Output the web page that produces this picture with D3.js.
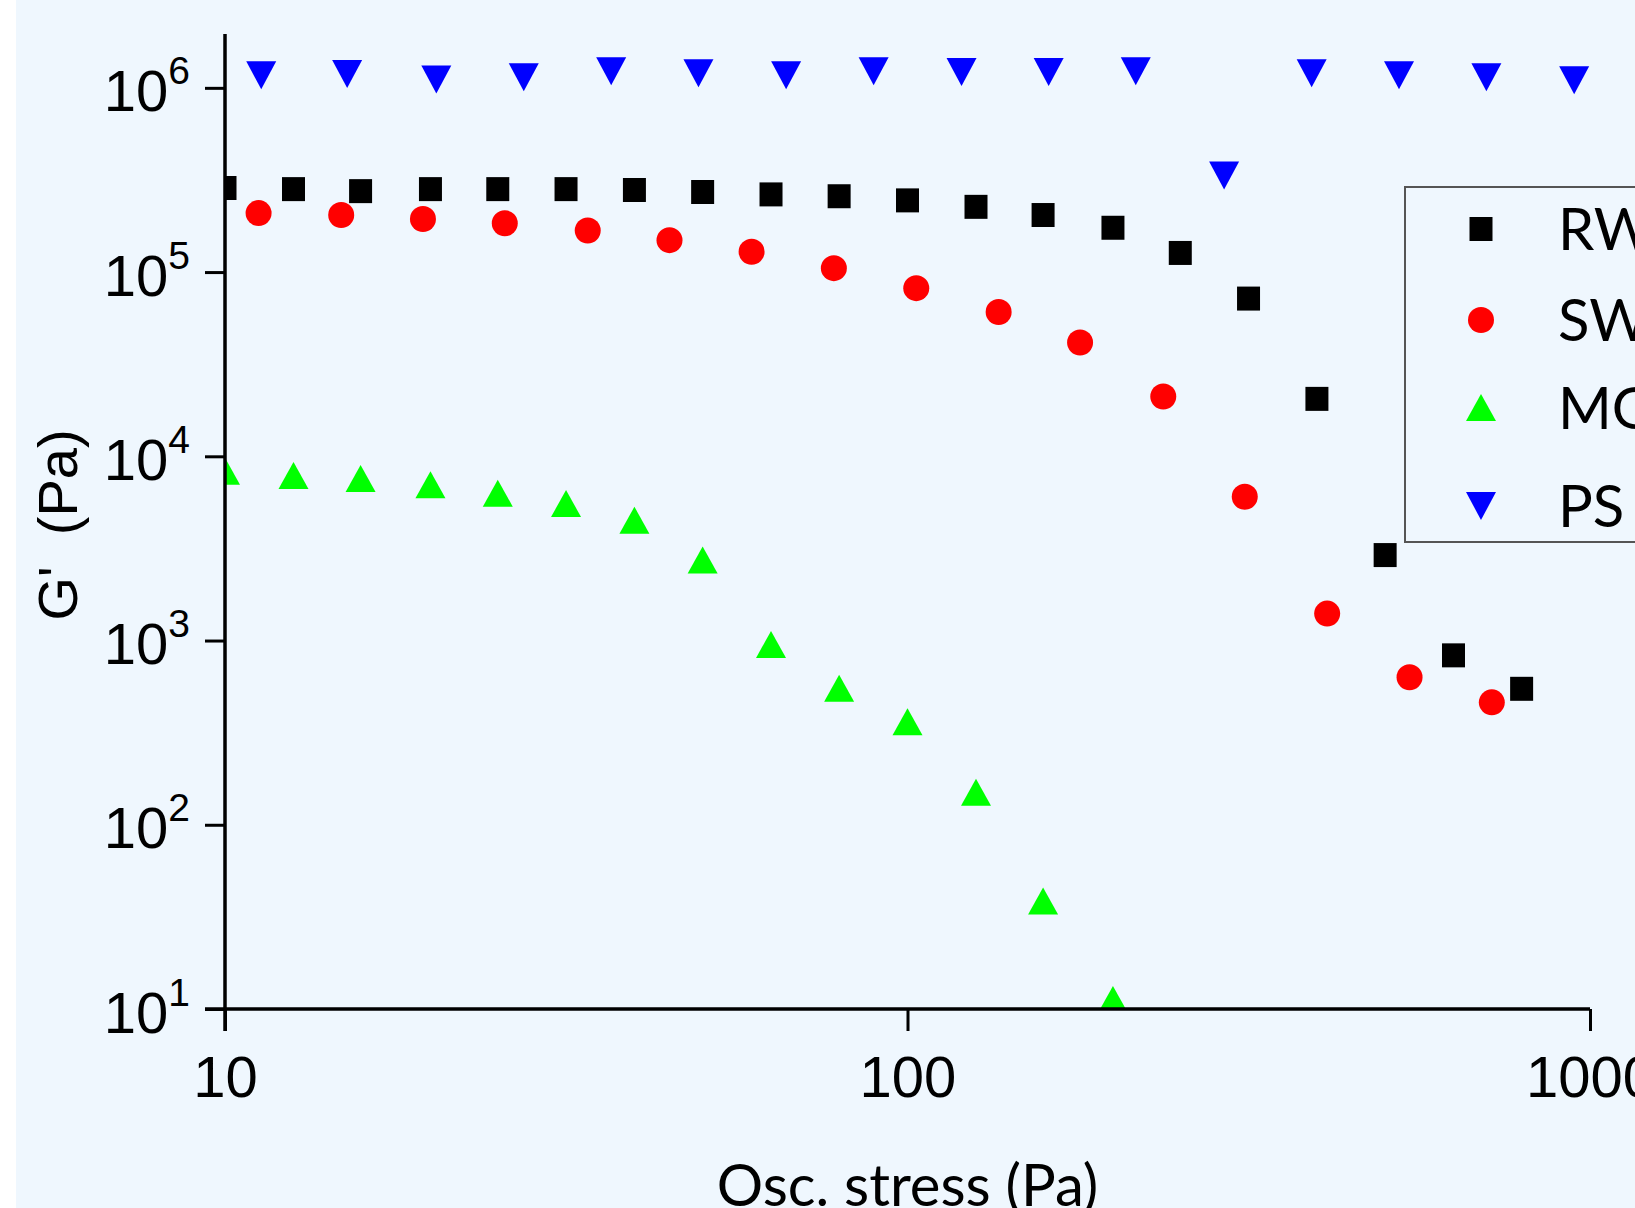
<!DOCTYPE html>
<html>
<head>
<meta charset="utf-8">
<script src="https://cdn.jsdelivr.net/npm/d3@7"></script>
<style>
  html, body { margin: 0; padding: 0; background: #fff; overflow: hidden; }
  svg { display: block; }
</style>
</head>
<body>
<script>
"use strict";

// G' vs oscillation stress, four samples
var rwStress = [10, 12.6, 15.8, 20, 25.1, 31.6, 39.8, 50.1, 63.1, 79.4, 100, 126, 158, 200, 251, 316, 398, 501, 631, 794];
var rwG = [2.86e5, 2.82e5, 2.75e5, 2.82e5, 2.82e5, 2.82e5, 2.79e5, 2.72e5, 2.64e5, 2.58e5, 2.45e5, 2.26e5, 2.04e5, 1.74e5, 1.27e5, 7.18e4, 2.05e4, 2.91e3, 831, 547];

var swStress = [11.2, 14.8, 19.5, 25.7, 34.0, 44.8, 59.1, 78.0, 103, 136, 179, 237, 312, 412, 544, 718];
var swG = [2.09e5, 2.04e5, 1.94e5, 1.84e5, 1.68e5, 1.49e5, 1.29e5, 1.05e5, 8.18e4, 6.07e4, 4.15e4, 2.11e4, 6.03e3, 1.40e3, 632, 462];

var mgStress = [10, 12.6, 15.8, 20, 25.1, 31.6, 39.8, 50.1, 63.1, 79.4, 100, 126, 158, 200];
var mgG = [8.25e3, 7.83e3, 7.53e3, 6.96e3, 6.27e3, 5.51e3, 4.47e3, 2.72e3, 946, 547, 360, 149, 38.3, 11.2];

var psStress = [11.3, 15.1, 20.4, 27.4, 36.8, 49.4, 66.4, 89.2, 120, 161, 216, 291, 391, 525, 705, 948];
var psG = [1.17e6, 1.19e6, 1.11e6, 1.14e6, 1.23e6, 1.20e6, 1.17e6, 1.23e6, 1.22e6, 1.22e6, 1.23e6, 3.34e5, 1.20e6, 1.17e6, 1.14e6, 1.10e6];

var seriesNames = ["RW", "SW", "MG", "PS"];
var seriesColors = ["#000000", "#ff0000", "#00ff00", "#0000ff"];
var seriesShapes = ["square", "circle", "up", "down"];

var xTicks = [10, 100, 1000];
var xTickLabels = ["10", "100", "1000"];
var yTickExps = [1, 2, 3, 4, 5, 6];

var width = 1635;
var height = 1208;

var series = [
  { stress: rwStress, g: rwG },
  { stress: swStress, g: swG },
  { stress: mgStress, g: mgG },
  { stress: psStress, g: psG }
];
series.forEach(function (s, i) {
  s.name = seriesNames[i];
  s.color = seriesColors[i];
  s.shape = seriesShapes[i];
  s.points = s.stress.map(function (d, j) { return { x: d, y: s.g[j] }; });
});

var x = d3.scaleLog().domain([10, 1000]).range([225, 1590]);
var y = d3.scaleLog().domain([10, 1.96e6]).range([1009, 34]);

var tickFont = "'Liberation Sans', Arial, sans-serif";
var titleFont = "Lato, 'Open Sans', sans-serif";

var svg = d3.select("body").append("svg")
    .attr("width", width)
    .attr("height", height);

svg.append("rect")
    .attr("x", 16).attr("y", 0)
    .attr("width", width - 16).attr("height", height)
    .attr("fill", "#eff7fe");

svg.append("clipPath").attr("id", "plotclip")
  .append("rect")
    .attr("x", x.range()[0]).attr("y", y.range()[1])
    .attr("width", x.range()[1] - x.range()[0])
    .attr("height", y.range()[0] - y.range()[1]);

function markerPath(shape) {
  if (shape === "square") return "M-11.5,-12H11.5V12H-11.5Z";
  if (shape === "circle") return d3.symbol(d3.symbolCircle, Math.PI * 13 * 13)();
  if (shape === "up") return "M0,-14L15,13L-15,13Z";
  return "M0,14L15,-14L-15,-14Z";
}

// markers
var plot = svg.append("g").attr("clip-path", "url(#plotclip)");
series.forEach(function (s) {
  plot.selectAll(".pt-" + s.name)
    .data(s.points)
    .enter()
      .append("path")
      .attr("class", "pt-" + s.name)
      .attr("d", markerPath(s.shape))
      .attr("fill", s.color)
      .attr("transform", function (d) {
        return "translate(" + x(d.x) + "," + y(d.y) + ")";
      });
});

// x axis
var xAxis = svg.append("g")
    .attr("transform", "translate(0," + y.range()[0] + ")")
    .call(d3.axisBottom(x).tickValues(xTicks).tickSize(22).tickFormat(function (d, i) { return xTickLabels[i]; }));
xAxis.select(".domain")
    .attr("d", "M" + (x.range()[0] - 20) + ",0H" + x.range()[1])
    .attr("stroke", "#000").attr("stroke-width", 3.5);
xAxis.selectAll(".tick line").attr("stroke", "#000").attr("stroke-width", 3);
xAxis.selectAll(".tick text")
    .attr("y", 88).attr("dy", 0)
    .attr("font-family", tickFont)
    .attr("font-size", 58)
    .attr("fill", "#000");

// y axis
var yAxis = svg.append("g")
    .attr("transform", "translate(" + x.range()[0] + ",0)")
    .call(d3.axisLeft(y).tickValues(yTickExps.map(function (e) { return Math.pow(10, e); })).tickSize(20).tickFormat(""));
yAxis.select(".domain")
    .attr("d", "M0," + y.range()[1] + "V" + (y.range()[0] + 22))
    .attr("stroke", "#000").attr("stroke-width", 3.5);
yAxis.selectAll(".tick line").attr("stroke", "#000").attr("stroke-width", 3);
yAxis.selectAll(".tick").each(function (d, i) {
  var t = d3.select(this).append("text")
      .attr("x", -35)
      .attr("y", 23)
      .attr("text-anchor", "end")
      .attr("font-family", tickFont)
      .attr("fill", "#000");
  t.append("tspan").attr("font-size", 58).text("10");
  t.append("tspan").attr("font-size", 39).attr("dy", -27).text(yTickExps[i]);
});

// axis titles
svg.append("text")
    .attr("x", (x.range()[0] + x.range()[1]) / 2)
    .attr("y", 1206)
    .attr("text-anchor", "middle")
    .attr("font-family", titleFont)
    .attr("font-size", 58)
    .attr("fill", "#000")
    .text("Osc. stress (Pa)");

svg.append("text")
    .attr("transform", "translate(77,525) rotate(-90)")
    .attr("text-anchor", "middle")
    .attr("font-family", tickFont)
    .attr("font-size", 56)
    .attr("fill", "#000")
    .style("white-space", "pre")
    .text("G'  (Pa)");

// legend
var legend = svg.append("g");
legend.append("rect")
    .attr("x", 1405).attr("y", 187)
    .attr("width", 400).attr("height", 355)
    .attr("fill", "none")
    .attr("stroke", "#555")
    .attr("stroke-width", 2);

var legendRows = [229, 320, 408, 506];
var item = legend.selectAll(".item")
    .data(series)
    .enter()
      .append("g")
      .attr("class", "item")
      .attr("transform", function (d, i) { return "translate(0," + legendRows[i] + ")"; });
item.append("path")
    .attr("transform", "translate(1481,0)")
    .attr("d", function (d) { return markerPath(d.shape); })
    .attr("fill", function (d) { return d.color; });
item.append("text")
    .attr("x", 1558)
    .attr("y", 21)
    .attr("font-family", titleFont)
    .attr("font-size", 58)
    .attr("fill", "#000")
    .text(function (d) { return d.name; });
</script>
</body>
</html>
